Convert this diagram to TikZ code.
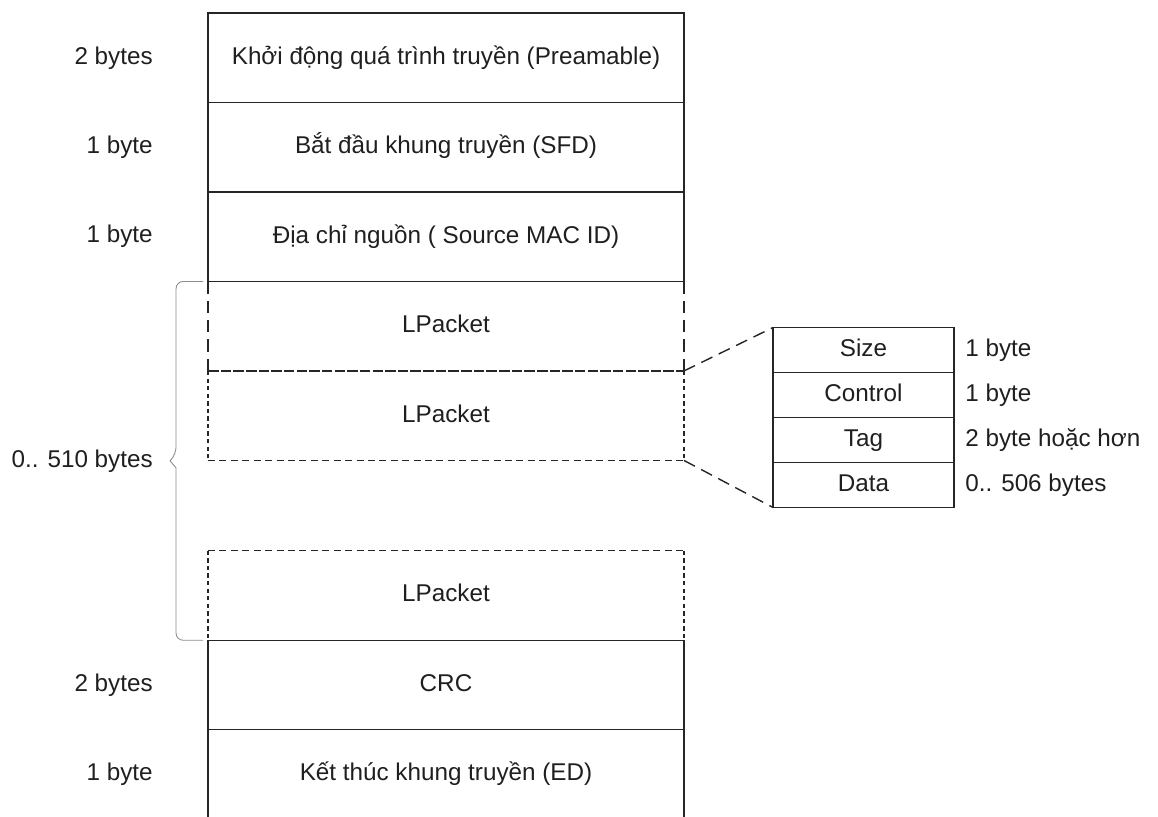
\documentclass[tikz,border=0pt]{standalone}
\usepackage{fontspec}
\setmainfont{Liberation Sans}
\usepackage{tikz}
\usetikzlibrary{positioning,calc}

\begin{document}
\begin{tikzpicture}[x=0.02cm,y=-0.02cm,
                    txt/.style={font=\fontsize{13.8}{16}\selectfont,text=black!88},
                    field/.style={txt,text height=0.72em,text depth=0pt,minimum width=9.52cm,minimum height=1.79cm,inner sep=0pt,outer sep=0pt},
                    sub/.style={txt,text height=0.72em,text depth=0pt,draw=black!85,line width=0.8pt,minimum width=3.62cm,minimum height=0.9cm,inner sep=0pt,outer sep=0pt},
                    lbl/.style={txt,inner sep=0pt},
                    frame/.style={draw=black!85,line width=0.8pt},
                    longdash/.style={draw=black!85,line width=0.8pt,dash pattern=on 7pt off 4pt},
                    shortdash/.style={draw=black!85,line width=0.8pt,dash pattern=on 2.5pt off 1.8pt},
                    middash/.style={draw=black!85,line width=0.8pt,dash pattern=on 4pt off 2.5pt},
                    fulldash/.style={draw=black!85,line width=0.8pt,dash pattern=on 6pt off 1.2pt},
                    bracel/.style={draw=black!45,line width=0.5pt,rounded corners=4pt}]
                              \useasboundingbox (0,0) rectangle (1158,816);

                              % Frame fields
                              \node[field,frame] (pre) at (446,57.75) {Khởi động quá trình truyền (Preamable)};
                              \node[field,frame,below=0pt of pre] (sfd) {Bắt đầu khung truyền (SFD)};
                              \node[field,frame,below=0pt of sfd] (src) {Địa chỉ nguồn ( Source MAC ID)};
                              \node[field,below=0pt of src] (lpa) {LPacket};
                              \node[field,below=0pt of lpa] (lpb) {LPacket};
                              \node[field] (lpc) at (446,595.5) {LPacket};
                              \node[field,frame,below=0pt of lpc] (crc) {CRC};
                              \node[field,frame,below=0pt of crc] (ed) {Kết thúc khung truyền (ED)};

                              % Dashed packets
                              \draw[longdash] (lpa.north west) -- (lpa.south west);
                              \draw[longdash] (lpa.north east) -- (lpa.south east);
                              \draw[fulldash] (lpa.south west) -- (lpa.south east);
                              \draw[shortdash] (lpb.north west) -- (lpb.south west);
                              \draw[shortdash] (lpb.north east) -- (lpb.south east);
                              \draw[middash] (lpb.south west) -- (lpb.south east);
                              \draw[middash] (lpc.north west) -- (lpc.north east);
                              \draw[shortdash] (lpc.north west) -- (lpc.south west);
                              \draw[shortdash] (lpc.north east) -- (lpc.south east);

                              % Sizes on the left
                              \node[lbl,left=1.1cm of pre.west] (npre) {2 bytes};
                              \node[lbl,left=1.1cm of sfd.west] (nsfd) {1 byte};
                              \node[lbl,left=1.1cm of src.west] (nsrc) {1 byte};
                              \node[lbl,left=1.1cm of crc.west] (ncrc) {2 bytes};
                              \node[lbl,left=1.1cm of ed.west] (ned) {1 byte};

                              % Brace
                              \coordinate (bt) at ([xshift=-0.1cm]lpa.north west);
                              \coordinate (bb) at ([xshift=-0.1cm]lpc.south west);
                              \coordinate (tip) at ($(bt)!0.5!(bb)+(-0.66cm,0)$);
                              \draw[bracel] (bt) -- ([xshift=-0.54cm]bt)
                              -- ([shift={(0.12cm,0.14cm)}]tip) [sharp corners] -- (tip)
                              -- ([shift={(0.12cm,-0.14cm)}]tip) [rounded corners=4pt]
                              -- ([xshift=-0.54cm]bb) -- (bb);
                              \node[lbl,left=0.34cm of tip] (nlp) {0.. 510 bytes};

                              % LPacket detail
                              \node[sub] (size) at (863.5,350) {Size};
                              \node[sub,below=0pt of size] (ctrl) {Control};
                              \node[sub,below=0pt of ctrl] (tag) {Tag};
                              \node[sub,below=0pt of tag] (data) {Data};
                              \node[lbl,anchor=west,right=0.22cm of size.east] (nsize) {1 byte};
                              \node[lbl,anchor=west,right=0.22cm of ctrl.east] (nctrl) {1 byte};
                              \node[lbl,anchor=west,right=0.22cm of tag.east] (ntag) {2 byte hoặc hơn};
                              \node[lbl,anchor=west,right=0.22cm of data.east] (ndata) {0.. 506 bytes};

                              \draw[longdash] (lpa.south east) -- (size.north west);
                              \draw[longdash] (lpb.south east) -- (data.south west);
                        \end{tikzpicture}
\end{document}
